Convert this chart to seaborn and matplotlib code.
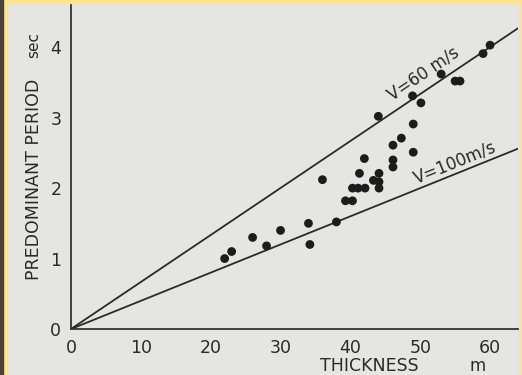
import matplotlib
matplotlib.use("Agg")
import matplotlib.pyplot as plt
import seaborn as sns
import pandas as pd

# data
thickness = [22, 23, 26, 28, 30, 34, 34.2, 36, 38, 39.3, 40.3, 40.3, 41.1, 42.1,
             41.3, 42, 43.3, 44.1, 44.1, 44.1, 44, 46.1, 46.1, 46.1, 47.3, 49, 49,
             48.9, 50.1, 53, 55, 55.7, 59, 60]
period = [1.0, 1.1, 1.3, 1.18, 1.4, 1.5, 1.2, 2.12, 1.52, 1.82, 1.82, 2.0, 2.0, 2.0,
          2.21, 2.42, 2.11, 2.21, 2.09, 2.0, 3.02, 2.61, 2.4, 2.3, 2.71, 2.91, 2.51,
          3.31, 3.21, 3.62, 3.52, 3.52, 3.91, 4.03]

# reference lines (T = 4H/V), end points
line_thickness = [0, 64]
period_v60 = [0, 4.27]
period_v100 = [0, 2.56]

xticks = [0, 10, 20, 30, 40, 50, 60]
yticks = [0, 1, 2, 3, 4]

paper = "#e5e5e3"
ink = "#1c1c1c"

sns.set_style("white")
plt.rcParams['font.family'] = ['DejaVu Sans']

fig = plt.figure(figsize=(5.22, 3.75), dpi=100)
fig.patch.set_facecolor("#ffe48f")
# scanned paper area and dark scan edge on the left
fig.patches.append(plt.Rectangle((8 / 522, 0), (518 - 8) / 522, 371 / 375,
                                 transform=fig.transFigure, color=paper, zorder=-10))
fig.patches.append(plt.Rectangle((0, 0), 3 / 522, 1, transform=fig.transFigure,
                                 color="#4a4236", zorder=-10))

ax = fig.add_axes([71 / 522, 46 / 375, (518 - 71) / 522, (370 - 46) / 375])
ax.set_facecolor(paper)
ax.set_zorder(1)

df = pd.DataFrame({"thickness": thickness, "period": period})
lines = pd.DataFrame({"thickness": line_thickness * 2,
                      "period": period_v60 + period_v100,
                      "V": ["60"] * 2 + ["100"] * 2})

sns.lineplot(data=lines, x="thickness", y="period", units="V", estimator=None,
             color="#2a2a2a", linewidth=1.3, ax=ax)
sns.scatterplot(data=df, x="thickness", y="period", color=ink, s=40,
                edgecolor="none", ax=ax, zorder=3)

ax.set_xlim(0, 64)
ax.set_ylim(0, 4.6)
ax.set_xticks(xticks)
ax.set_yticks(yticks)
ax.tick_params(axis="both", direction="out", length=4, width=1.2, color="#333333",
               labelsize=12.5, labelcolor="#2a2a2a", pad=3)
for side in ["top", "right"]:
    ax.spines[side].set_visible(False)
for side in ["left", "bottom"]:
    ax.spines[side].set_color("#333333")
    ax.spines[side].set_linewidth(1.3)

ax.set_xlabel("")
ax.set_ylabel("")
fig.text(369 / 522, 1 - 366 / 375, "THICKNESS", ha="center", va="center",
         fontsize=12.5, color="#2a2a2a")
fig.text(478 / 522, 1 - 366 / 375, "m", ha="center", va="center",
         fontsize=12, color="#2a2a2a")
fig.text(34 / 522, 1 - 179 / 375, "PREDOMINANT PERIOD", ha="center", va="center",
         rotation=90, fontsize=12.5, color="#2a2a2a")
fig.text(34 / 522, 1 - 45 / 375, "sec", ha="center", va="center",
         rotation=90, fontsize=11, color="#2a2a2a")

ax.text(50.5, 3.62, "V=60 m/s", rotation=34, ha="center", va="center",
        fontsize=12, color="#2a2a2a")
ax.text(55, 2.36, "V=100m/s", rotation=22, ha="center", va="center",
        fontsize=12, color="#2a2a2a")

fig.savefig("out.png", dpi=100, facecolor=fig.get_facecolor())
